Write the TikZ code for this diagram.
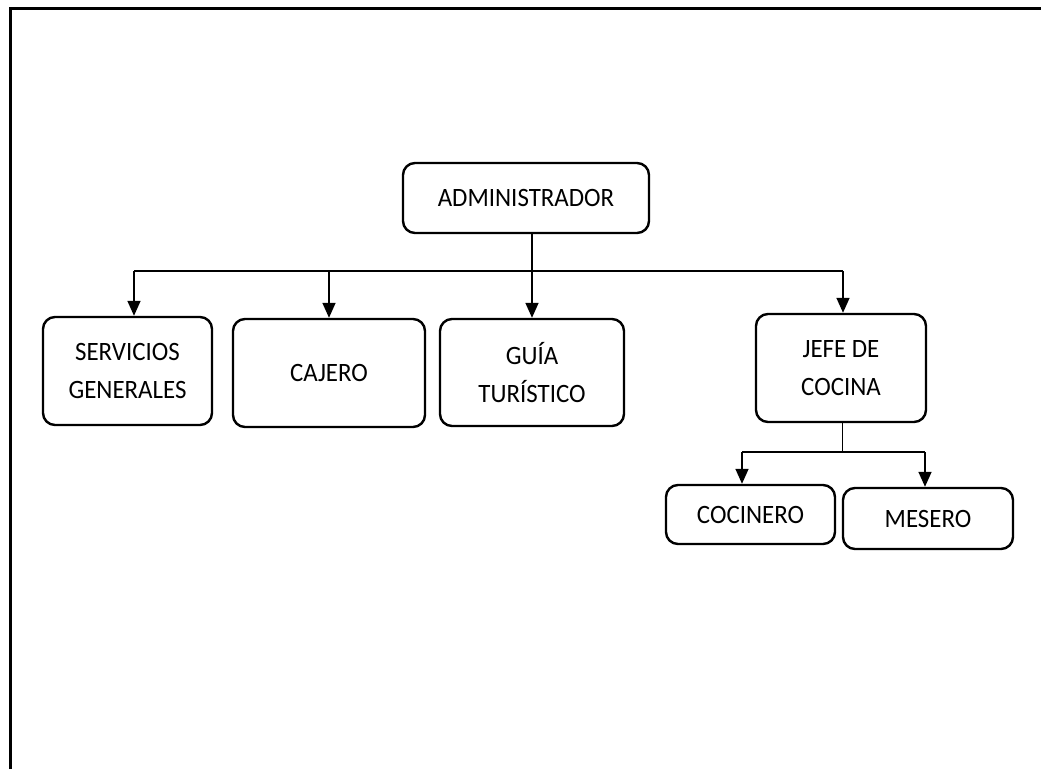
\documentclass[tikz,border=0pt]{standalone}
\usepackage{fontspec}
\setmainfont{Carlito}[FakeStretch=0.94]
\usetikzlibrary{arrows.meta}
\begin{document}
\begin{tikzpicture}[x=1pt,y=-1pt,
  box/.style={draw,line width=2.4pt,rounded corners=12pt,align=center,inner sep=0pt,
    font=\fontsize{26.5}{38}\selectfont},
  conn/.style={line width=1.6pt,-{Triangle[width=13pt,length=15pt]}},
  barline/.style={line width=1.6pt},
  thinline/.style={line width=1pt}]
\useasboundingbox (0,0) rectangle (1041,769);
% frame
\draw[line width=3pt] (10,769) -- (10,8) -- (1041,8);
% nodes
\node[box,minimum width=246pt,minimum height=70pt] (admin) at (526,198) {ADMINISTRADOR};
\node[box,minimum width=169pt,minimum height=108pt] (serv) at (127.5,371) {SERVICIOS\\GENERALES};
\node[box,minimum width=192pt,minimum height=108pt] (caj) at (329,373) {CAJERO};
\node[box,minimum width=184pt,minimum height=107pt] (guia) at (532,372.5) {GUÍA\\TURÍSTICO};
\node[box,minimum width=170pt,minimum height=108pt] (jefe) at (841,368) {JEFE DE\\COCINA};
\node[box,minimum width=169pt,minimum height=59pt] (coc) at (750.5,514.5) {COCINERO};
\node[box,minimum width=170pt,minimum height=61pt] (mes) at (928,518.5) {MESERO};
% connector coordinates
\coordinate (b1) at (134,271);
\coordinate (b2) at (329,271);
\coordinate (b4) at (843,271);
\coordinate (s0) at (842,452);
\coordinate (s1) at (742,452);
\coordinate (s2) at (925,452);
% connectors
\draw[barline] (b1) -- (b4);
\draw[conn] (guia.north |- admin.south) -- (guia.north);
\draw[conn] (b1) -- (b1 |- serv.north);
\draw[conn] (b2) -- (b2 |- caj.north);
\draw[conn] (b4) -- (b4 |- jefe.north);
\draw[thinline] (s0 |- jefe.south) -- (s0);
\draw[barline] (s1) -- (s2);
\draw[conn] (s1) -- (s1 |- coc.north);
\draw[conn] (s2) -- (s2 |- mes.north);
\end{tikzpicture}
\end{document}
